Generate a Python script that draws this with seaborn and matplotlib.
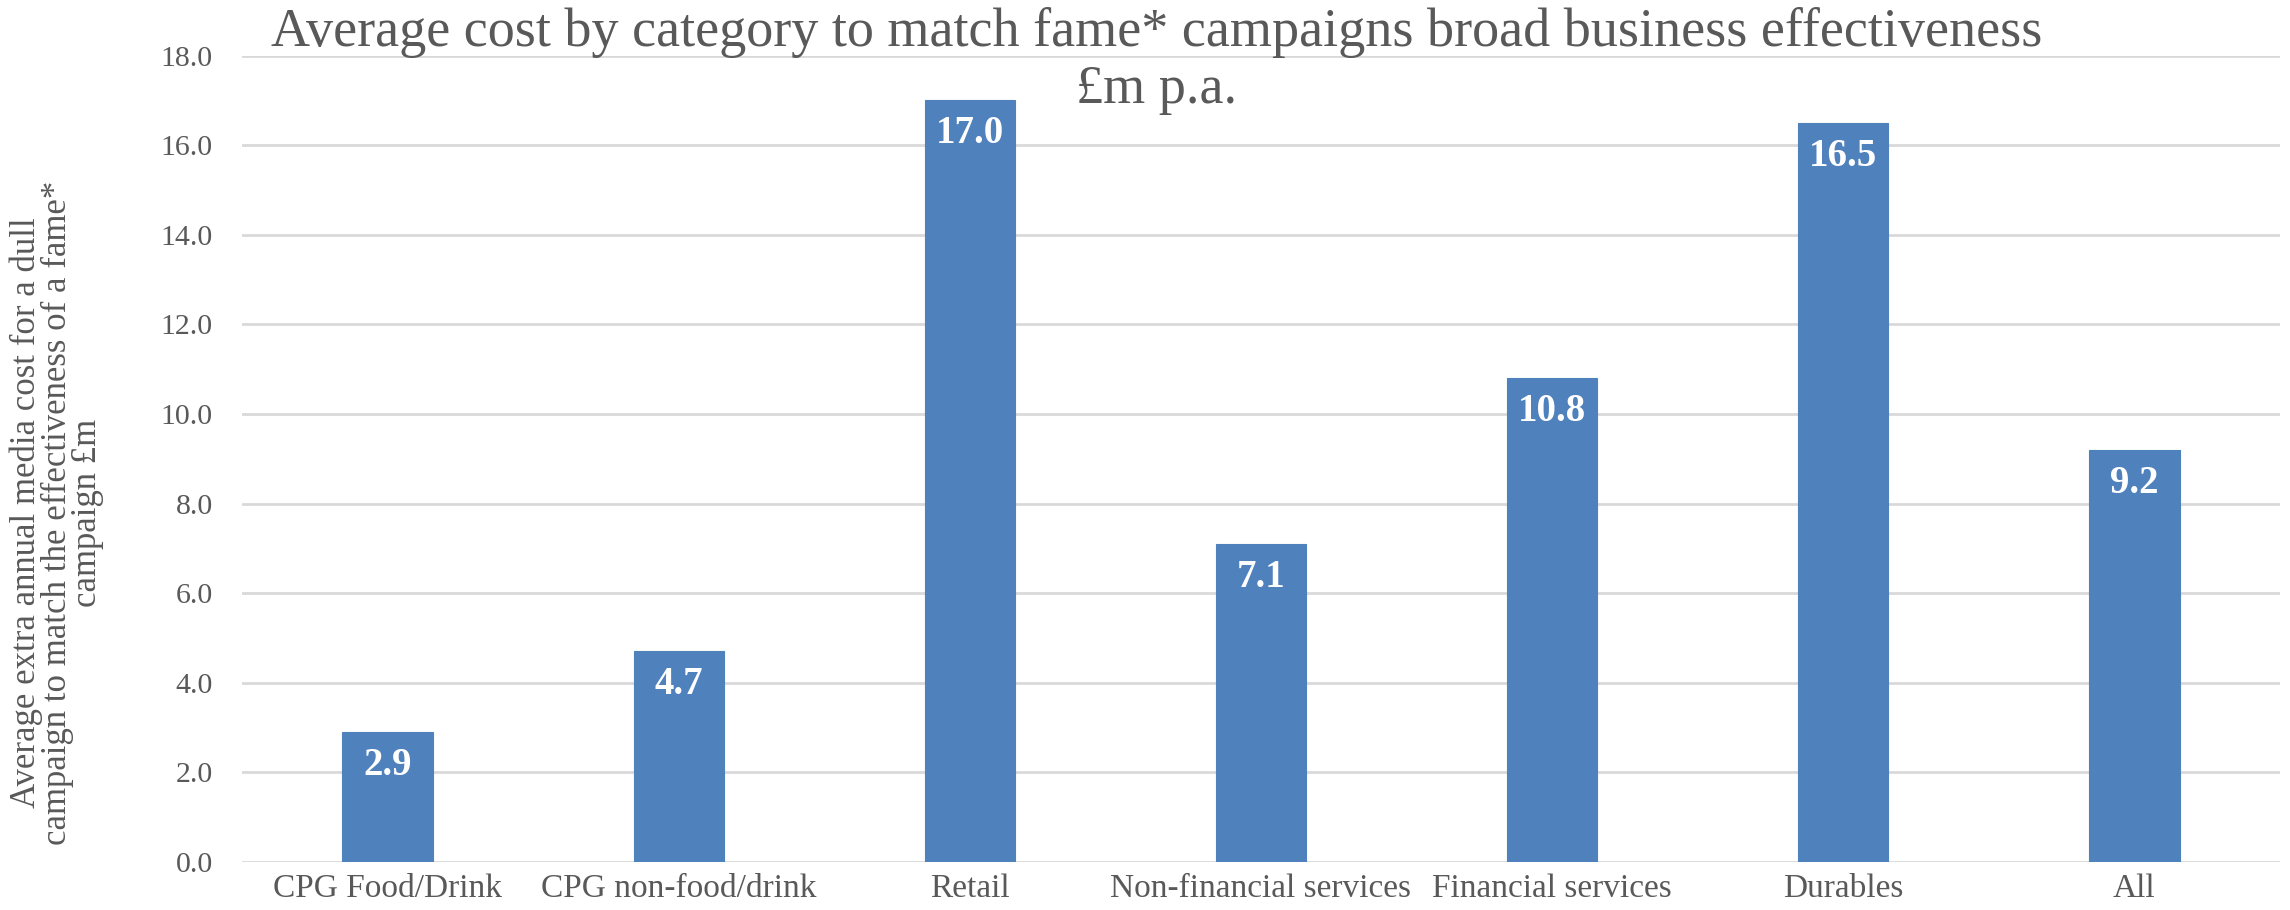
import matplotlib
matplotlib.use("Agg")
import matplotlib.pyplot as plt
import seaborn as sns
import pandas as pd

categories = ["CPG Food/Drink", "CPG non-food/drink", "Retail", "Non-financial services",
              "Financial services", "Durables", "All"]
values = [2.9, 4.7, 17.0, 7.1, 10.8, 16.5, 9.2]
yticks = [0, 2, 4, 6, 8, 10, 12, 14, 16, 18]

title_line1 = "Average cost by category to match fame* campaigns broad business effectiveness"
title_line2 = "£m p.a."
ylabel = ("Average extra annual media cost for a dull\n"
          "campaign to match the effectiveness of a fame*\n"
          "campaign £m")

sns.set_theme(style="white")
plt.rcParams['font.family'] = ['Liberation Serif', 'DejaVu Serif']

TEXT = "#595959"
BAR = "#4F81BD"
GRID = "#D9D9D9"

df = pd.DataFrame({"category": categories, "value": values})

fig = plt.figure(figsize=(22.9, 9.1), dpi=100)
ax = fig.add_axes([242/2290, 1-862/910, (2280-242)/2290, (862-55.5)/910])

sns.barplot(data=df, x="category", y="value", color=BAR, width=0.31, ax=ax,
            saturation=1, edgecolor=BAR, linewidth=0.8)

ax.set_ylim(0, 18)
ax.set_xlim(-0.5, len(categories) - 0.5)
ax.set_yticks(yticks)
ax.set_yticklabels([f"{t:.1f}" for t in yticks], fontsize=21.5, color=TEXT)
ax.set_xticklabels(categories, fontsize=24, color=TEXT)
ax.tick_params(axis="both", length=0)
ax.tick_params(axis="y", pad=21)
ax.tick_params(axis="x", pad=8)
ax.yaxis.grid(True, color=GRID, linewidth=2)
ax.set_axisbelow(True)
for s in ax.spines.values():
    s.set_visible(False)
ax.set_xlabel("")
ax.set_ylabel("")

for i, v in enumerate(values):
    ax.annotate(f"{v:.1f}", xy=(i, v), xytext=(0, -31), textcoords="offset points",
                ha="center", va="baseline", color="white", fontsize=28, fontweight="bold")

fig.text(0.505, 1 - 46/910, title_line1, ha="center", va="baseline", fontsize=39, color=TEXT)
fig.text(0.505, 1 - 103/910, title_line2, ha="center", va="baseline", fontsize=39, color=TEXT)
fig.text(57/2290, 1 - 513/910, ylabel, rotation=90, ha="center", va="center",
         fontsize=25, color=TEXT, linespacing=0.9, multialignment="center")

fig.savefig("out.png", dpi=100)
